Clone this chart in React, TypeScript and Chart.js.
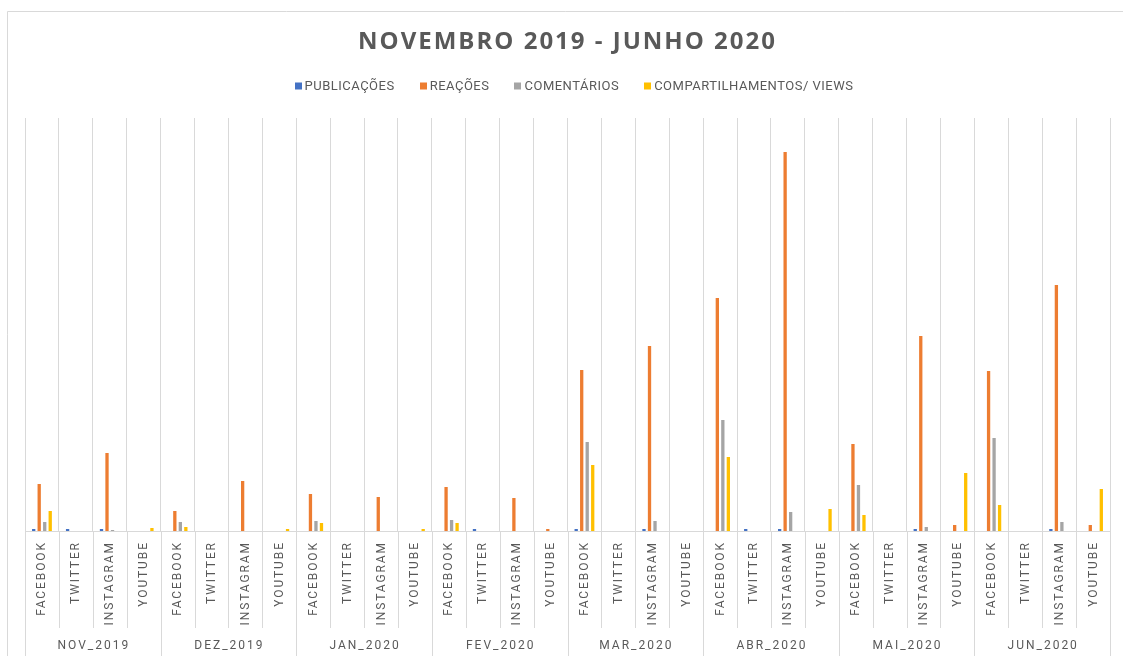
import React, { useEffect, useRef } from 'react';
import { Chart, registerables } from 'chart.js';

Chart.register(...registerables);

const TITLE = 'NOVEMBRO 2019 - JUNHO 2020';
const MONTHS = ['NOV_2019', 'DEZ_2019', 'JAN_2020', 'FEV_2020', 'MAR_2020', 'ABR_2020', 'MAI_2020', 'JUN_2020'];
const PLATFORMS = ['FACEBOOK', 'TWITTER', 'INSTAGRAM', 'YOUTUBE'];
const SERIES_NAMES = ['PUBLICAÇÕES', 'REAÇÕES', 'COMENTÁRIOS', 'COMPARTILHAMENTOS/ VIEWS'];
const SERIES_COLORS = ['#4472C4', '#ED7D31', '#A5A5A5', '#FFC000'];

// values per month, in order FACEBOOK, TWITTER, INSTAGRAM, YOUTUBE
const PUBLICACOES = [
  2, 2, 2, 0,
  0, 0, 0, 0,
  0, 0, 0, 0,
  0, 2, 0, 0,
  2, 0, 2, 0,
  0, 2, 2, 0,
  0, 0, 2, 0,
  0, 0, 2, 0,
];
const REACOES = [
  47, 0, 78, 0,
  20, 0, 50, 0,
  37, 0, 34, 0,
  44, 0, 33, 2,
  161, 0, 185, 0,
  233, 0, 379, 0,
  87, 0, 195, 6,
  160, 0, 246, 6,
];
const COMENTARIOS = [
  9, 0, 1, 0,
  9, 0, 0, 0,
  10, 0, 0, 0,
  11, 0, 0, 0,
  89, 0, 10, 0,
  111, 0, 19, 0,
  46, 0, 4, 0,
  93, 0, 9, 0,
];
const COMPARTILHAMENTOS = [
  20, 0, 0, 3,
  4, 0, 0, 2,
  8, 0, 0, 2,
  8, 0, 0, 0,
  66, 0, 0, 0,
  74, 0, 0, 22,
  16, 0, 0, 58,
  26, 0, 0, 42,
];
const Y_MAX = 413;

const W = 1123;
const H = 656;
const TEXT = '#595959';
const GRID = '#D9D9D9';

const CATEGORY_LABELS = MONTHS.flatMap(() => PLATFORMS);
const SERIES_DATA = [PUBLICACOES, REACOES, COMENTARIOS, COMPARTILHAMENTOS];

const decorPlugin = {
  id: 'excelDecor',
  beforeDraw(chart: any) {
    const ctx = chart.ctx as CanvasRenderingContext2D;
    const area = chart.chartArea;
    ctx.save();
    ctx.fillStyle = '#ffffff';
    ctx.fillRect(0, 0, W, H);
    // outer frame
    ctx.strokeStyle = GRID;
    ctx.lineWidth = 1;
    ctx.beginPath();
    ctx.moveTo(7.5, H + 5);
    ctx.lineTo(7.5, 11.5);
    ctx.lineTo(W + 5, 11.5);
    ctx.stroke();
    // title
    ctx.fillStyle = TEXT;
    ctx.font = 'bold 24px "Open Sans"';
    (ctx as any).letterSpacing = '2px';
    ctx.textAlign = 'center';
    ctx.textBaseline = 'middle';
    const cx = (area.left + area.right) / 2;
    ctx.fillText(TITLE, cx, 42);
    // legend
    (ctx as any).letterSpacing = '0.5px';
    ctx.font = '13px Roboto';
    ctx.textAlign = 'left';
    const box = 7;
    const gapBox = 3;
    const gapItem = 25;
    const widths = SERIES_NAMES.map((n) => ctx.measureText(n).width);
    const total = widths.reduce((s, w) => s + box + gapBox + w, 0) + gapItem * (SERIES_NAMES.length - 1);
    let lx = 574 - total / 2;
    const ly = 86;
    SERIES_NAMES.forEach((n, i) => {
      ctx.fillStyle = SERIES_COLORS[i];
      ctx.fillRect(Math.round(lx), ly - 3.5, box, box);
      ctx.fillStyle = TEXT;
      ctx.fillText(n, lx + box + gapBox, ly + 0.5);
      lx += box + gapBox + widths[i] + gapItem;
    });
    ctx.restore();
  },
  afterDraw(chart: any) {
    const ctx = chart.ctx as CanvasRenderingContext2D;
    const area = chart.chartArea;
    const x = chart.scales.x;
    const n = CATEGORY_LABELS.length;
    const step = x.getPixelForValue(1) - x.getPixelForValue(0);
    ctx.save();
    // lines below the baseline
    ctx.strokeStyle = GRID;
    ctx.lineWidth = 1;
    for (let b = 0; b <= n; b++) {
      const px = Math.round(x.getPixelForValue(0) - step / 2 + b * step) + 0.5;
      const bottom = b % PLATFORMS.length === 0 ? H + 5 : 628;
      ctx.beginPath();
      ctx.moveTo(px, area.bottom);
      ctx.lineTo(px, bottom);
      ctx.stroke();
    }
    // platform labels (rotated)
    ctx.fillStyle = TEXT;
    ctx.font = '12px Roboto';
    (ctx as any).letterSpacing = '1.9px';
    ctx.textAlign = 'right';
    ctx.textBaseline = 'middle';
    CATEGORY_LABELS.forEach((lab, i) => {
      const cx = x.getPixelForValue(i);
      ctx.save();
      ctx.translate(cx + 0.5, 543 - 1.9);
      ctx.rotate(-Math.PI / 2);
      ctx.fillText(lab, 0, 0);
      ctx.restore();
    });
    // month labels
    (ctx as any).letterSpacing = '2px';
    ctx.textAlign = 'center';
    MONTHS.forEach((m, j) => {
      const first = x.getPixelForValue(j * PLATFORMS.length);
      const last = x.getPixelForValue(j * PLATFORMS.length + PLATFORMS.length - 1);
      ctx.fillText(m, (first + last) / 2 + 1, 646);
    });
    ctx.restore();
  },
};

export default function App() {
  const ref = useRef<HTMLCanvasElement | null>(null);
  useEffect(() => {
    document.body.style.margin = '0';
    if (!ref.current) return;
    const chart = new Chart(ref.current, {
      type: 'bar',
      data: {
        labels: CATEGORY_LABELS,
        datasets: SERIES_NAMES.map((name, i) => ({
          label: name,
          data: SERIES_DATA[i],
          backgroundColor: SERIES_COLORS[i],
          borderWidth: 0,
          categoryPercentage: 0.65,
          barPercentage: 0.6,
        })),
      },
      options: {
        animation: false,
        responsive: false,
        devicePixelRatio: 1,
        layout: { padding: { left: 25, right: 13, top: 118, bottom: 125 } },
        plugins: {
          legend: { display: false },
          title: { display: false },
          tooltip: { enabled: false },
        },
        scales: {
          x: {
            offset: true,
            grid: { display: true, color: GRID, drawTicks: false, offset: true, lineWidth: 1 },
            border: { display: true, color: GRID },
            ticks: { display: false },
          },
          y: { display: false, min: 0, max: Y_MAX },
        },
      },
      plugins: [decorPlugin],
    });
    return () => chart.destroy();
  }, []);
  return (
    <div style={{ position: 'absolute', left: 0, top: 0, width: W, height: H, background: '#fff' }}>
      <canvas ref={ref} width={W} height={H} style={{ display: 'block', width: W, height: H }} />
    </div>
  );
}
